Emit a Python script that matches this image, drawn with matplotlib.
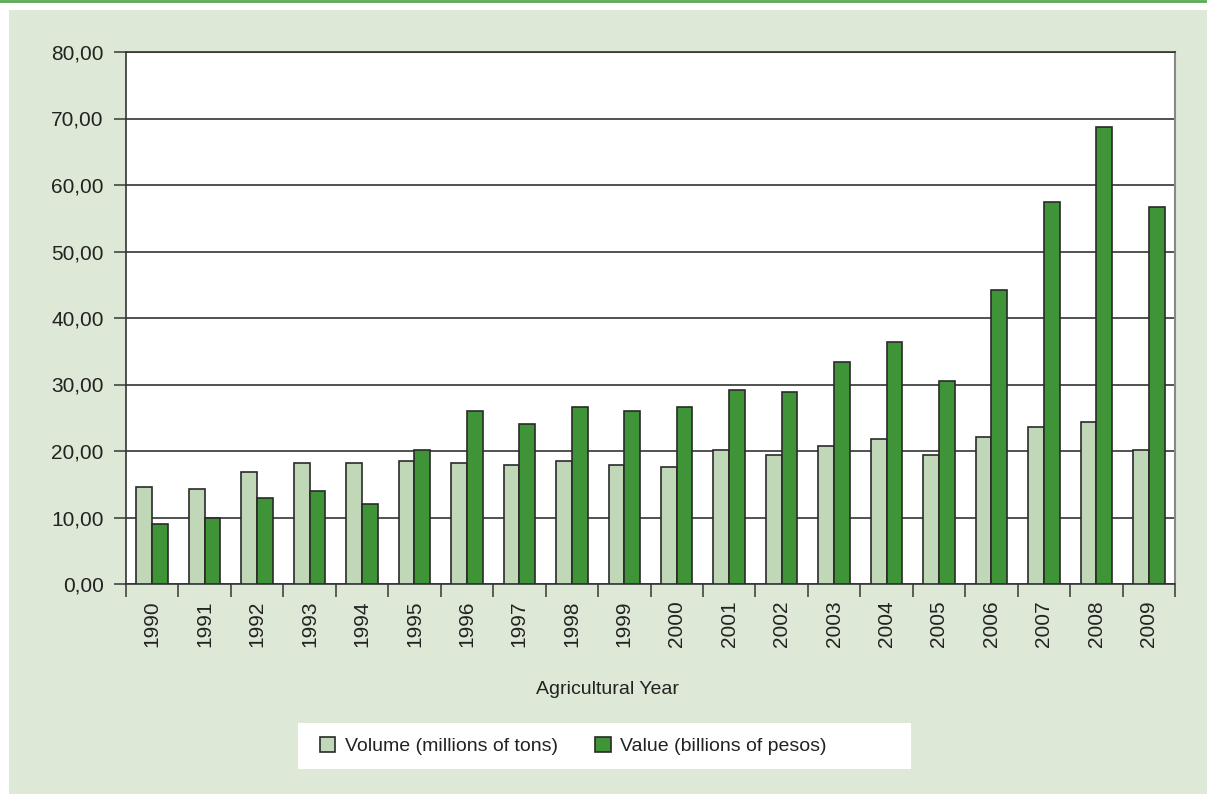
import matplotlib
matplotlib.use("Agg")
import matplotlib.pyplot as plt
import numpy as np
from matplotlib.patches import Rectangle
from matplotlib.lines import Line2D
from matplotlib.ticker import FuncFormatter, MultipleLocator

years = [str(y) for y in range(1990, 2010)]
volume = [14.6, 14.3, 16.8, 18.2, 18.2, 18.5, 18.2, 17.9, 18.5, 17.9,
          17.6, 20.1, 19.4, 20.8, 21.8, 19.4, 22.1, 23.6, 24.4, 20.1]
value = [9.0, 10.0, 12.9, 14.0, 12.0, 20.1, 26.0, 24.0, 26.6, 26.0,
         26.6, 29.2, 28.9, 33.4, 36.4, 30.5, 44.2, 57.4, 68.7, 56.7]

plt.rcParams['font.family'] = ['Liberation Sans Narrow', 'Liberation Sans', 'DejaVu Sans']

W, H = 1207, 794
fig = plt.figure(figsize=(W / 100, H / 100), dpi=100)
fig.patch.set_facecolor('white')

bg = '#dde8d6'
light = '#c0d8b8'
dark = '#3f9438'
edge = '#2a2a2a'

# page background and top rule
fig.add_artist(Rectangle((9 / W, 0), 1 - 9 / W, (H - 10) / H, transform=fig.transFigure,
                         facecolor=bg, edgecolor='none', zorder=0))
fig.add_artist(Line2D([0, 1], [1 - 1 / H, 1 - 1 / H], transform=fig.transFigure,
                      color='#5aaa52', lw=2, zorder=1))

ax = fig.add_axes([126 / W, (H - 584) / H, (1175 - 126) / W, (584 - 52) / H])
ax.set_facecolor('white')

x = np.arange(len(years))
bw = 0.3
ax.bar(x - bw / 2, volume, bw, color=light, edgecolor=edge, lw=1.2, zorder=3,
       label='Volume (millions of tons)')
ax.bar(x + bw / 2, value, bw, color=dark, edgecolor=edge, lw=1.2, zorder=3,
       label='Value (billions of pesos)')

ax.set_xlim(-0.5, len(years) - 0.5)
ax.set_ylim(0, 80)
ax.yaxis.set_major_locator(MultipleLocator(10))
ax.yaxis.set_major_formatter(FuncFormatter(lambda v, p: f'{v:.2f}'.replace('.', ',')))
ax.grid(axis='y', color='#333333', lw=1.2, zorder=1)

ax.set_xticks(x)
ax.set_xticklabels(years, rotation=90, fontsize=15, color='#222222')
ax.tick_params(axis='x', length=0, pad=12)
ax.set_xticks(np.arange(-0.5, len(years)), minor=True)
ax.tick_params(axis='x', which='minor', length=9, width=1.2, color='#444444', direction='out')
ax.tick_params(axis='y', length=9, width=1.2, color='#444444', labelsize=15, labelcolor='#222222', pad=7)

for s in ['left', 'top', 'bottom']:
    ax.spines[s].set_color('#333333')
    ax.spines[s].set_linewidth(1.2)
ax.spines['right'].set_color('#888888')
ax.spines['right'].set_linewidth(1.5)

fig.text(608 / W, 1 - 690 / H, 'Agricultural Year', ha='center', va='center',
         fontsize=14, color='#222222')

# legend box
lx0, ly0, lx1, ly1 = 298, 723, 911, 769
fig.add_artist(Rectangle((lx0 / W, 1 - ly1 / H), (lx1 - lx0) / W, (ly1 - ly0) / H,
                         transform=fig.transFigure, facecolor='white', edgecolor='none', zorder=1))
leg = fig.legend(loc='center left', bbox_to_anchor=(312 / W, 1 - (ly0 + ly1) / 2 / H),
                 ncol=2, frameon=False, fontsize=14, handlelength=0.8, handleheight=0.8,
                 handletextpad=0.5, columnspacing=1.9, borderaxespad=0)
for t in leg.get_texts():
    t.set_color('#222222')

fig.savefig('out.png', dpi=100)
